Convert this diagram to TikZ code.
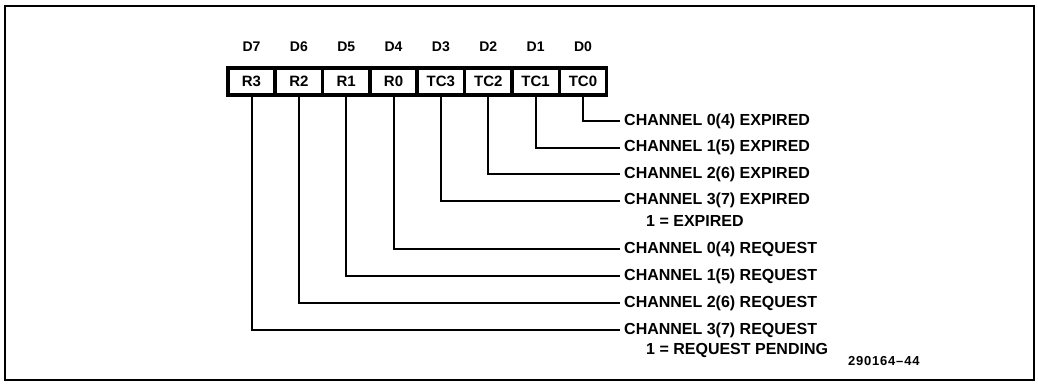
\documentclass[tikz,border=0pt]{standalone}
\usepackage{fontspec}
\setmainfont{Liberation Sans}
\begin{document}
\begin{tikzpicture}[x=1pt,y=-1pt,
  cell/.style={draw, line width=3.5pt, minimum width=47.35pt, minimum height=27pt, inner sep=0pt, font=\bfseries\fontsize{15}{15}\selectfont},
  bit/.style={font=\bfseries\fontsize{14}{14}\selectfont, inner sep=0pt},
  lbl/.style={anchor=west, inner sep=0pt, font=\bfseries\fontsize{16}{16}\selectfont},
  conn/.style={line width=2pt}]
\useasboundingbox (0,0) rectangle (1038,384);
\draw[line width=1.2pt] (5,6) rectangle (1034,380);
\foreach \i/\t [count=\k from 0] in {7/R3,6/R2,5/R1,4/R0,3/TC3,2/TC2,1/TC1,0/TC0} {
  \node[cell] (c\i) at ({251.5+47.35*\k}, 81.5) {\t};
  \node[bit] (d\i) at ({251.5+47.35*\k}, 47) {D\i};
}
\node[lbl] (l0) at (624,121) {CHANNEL 0(4) EXPIRED};
\node[lbl] (l1) at (624,147.5) {CHANNEL 1(5) EXPIRED};
\node[lbl] (l2) at (624,174) {CHANNEL 2(6) EXPIRED};
\node[lbl] (l3) at (624,200.5) {CHANNEL 3(7) EXPIRED};
\node[lbl] (e) at (646,221) {1 = EXPIRED};
\node[lbl] (l4) at (624,249) {CHANNEL 0(4) REQUEST};
\node[lbl] (l5) at (624,276) {CHANNEL 1(5) REQUEST};
\node[lbl] (l6) at (624,303) {CHANNEL 2(6) REQUEST};
\node[lbl] (l7) at (624,330) {CHANNEL 3(7) REQUEST};
\node[lbl] (p) at (646,350) {1 = REQUEST PENDING};
\node[anchor=west, inner sep=0pt, font=\bfseries\fontsize{13}{13}\selectfont] (fig) at (848,361) {\addfontfeature{LetterSpace=6}290164--44};
\foreach \i in {0,...,7} {
  \draw[conn] (c\i.south) |- ([xshift=-4pt]l\i.west);
}
\end{tikzpicture}
\end{document}
